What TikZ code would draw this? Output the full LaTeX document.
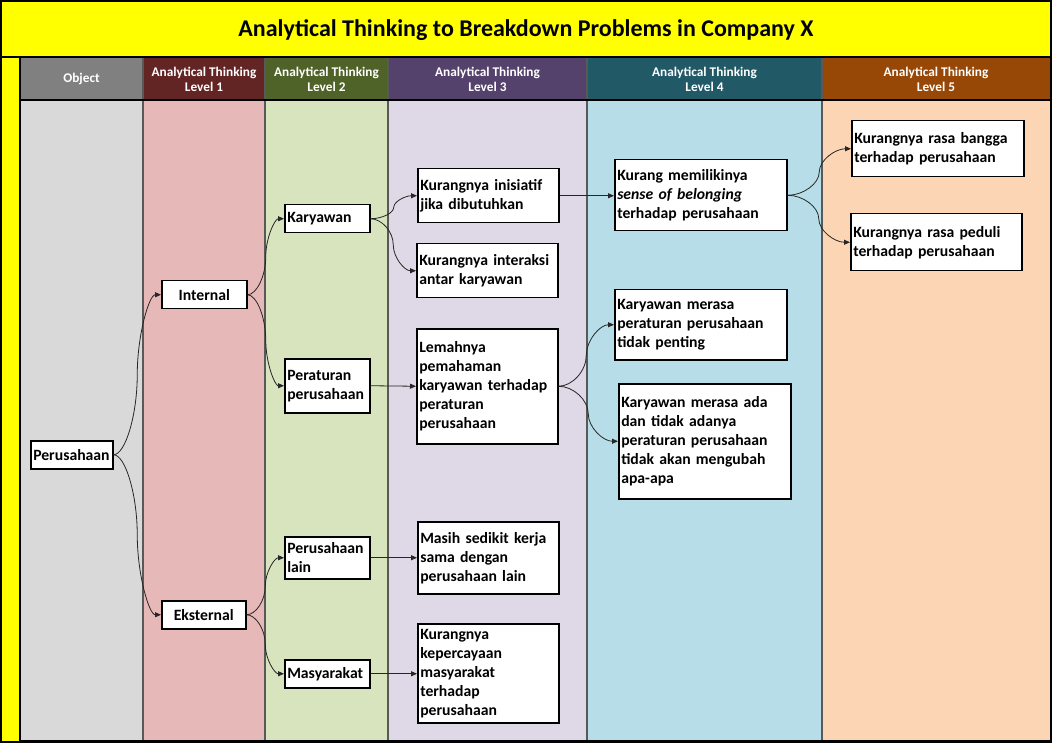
\documentclass[tikz,border=0pt]{standalone}
\usepackage{fontspec}
\setmainfont{Carlito}
\usetikzlibrary{arrows.meta,calc}
\hyphenpenalty=10000
\exhyphenpenalty=10000
\definecolor{ttlY}{HTML}{FFFF00}
\definecolor{hA}{HTML}{808080}
\definecolor{hB}{HTML}{632523}
\definecolor{hC}{HTML}{4F6228}
\definecolor{hD}{HTML}{55426C}
\definecolor{hE}{HTML}{215967}
\definecolor{hF}{HTML}{974806}
\definecolor{bA}{HTML}{D9D9D9}
\definecolor{bB}{HTML}{E6B9B8}
\definecolor{bC}{HTML}{D7E4BD}
\definecolor{bD}{HTML}{DFD8E6}
\definecolor{bE}{HTML}{B7DEE8}
\definecolor{bF}{HTML}{FCD5B5}
\definecolor{sepc}{HTML}{595959}
\begin{document}
\begin{tikzpicture}[x=1pt,y=-1pt,
  box/.style n args={3}{draw=black,line width=1.5pt,fill=white,anchor=north west,
    inner xsep=2.5pt,inner ysep=0pt,minimum width=#1pt,minimum height=#2pt,text width=#3pt,
    align=left,font=\fontsize{15.7}{19}\selectfont\bfseries},
  cbox/.style n args={2}{draw=black,line width=1.5pt,fill=white,anchor=north west,
    inner sep=0pt,minimum width=#1pt,minimum height=#2pt,
    align=center,font=\fontsize{15.7}{19}\selectfont\bfseries},
  hdr/.style={text=white,align=center,font=\fontsize{13.3}{15}\selectfont\bfseries},
  ttl/.style={text=black,font=\fontsize{24}{28}\selectfont\bfseries},
  conn/.style={draw=black!85,line width=0.8pt,-{Triangle[length=6pt,width=5pt]}},
  ex/.style={to path={let \p1=(\tikztostart), \p2=(\tikztotarget),
    \n1={0.5*(\x1+\x2)}, \n2={0.5*(\y1+\y2)} in
    .. controls ({0.75*\x1+0.25*\x2},\y1) and ({\n1*1pt},{0.75*\y1+0.25*\y2}) .. ({\n1*1pt},{\n2*1pt})
    .. controls ({\n1*1pt},{0.25*\y1+0.75*\y2}) and ({0.25*\x1+0.75*\x2},\y2) .. (\tikztotarget) \tikztonodes}}
]
\useasboundingbox (0,0) rectangle (1052,743);
% title bar
\fill[ttlY] (1,1) rectangle (1051,57);
\fill[ttlY] (1,57) rectangle (20,742);
% headers
\fill[hA] (20,58) rectangle (143,100);
\fill[hB] (143,58) rectangle (265,100);
\fill[hC] (265,58) rectangle (388,100);
\fill[hD] (388,58) rectangle (587,100);
\fill[hE] (587,58) rectangle (822,100);
\fill[hF] (822,58) rectangle (1050,100);
% bodies
\fill[bA] (20,100) rectangle (143,741);
\fill[bB] (143,100) rectangle (265,741);
\fill[bC] (265,100) rectangle (388,741);
\fill[bD] (388,100) rectangle (587,741);
\fill[bE] (587,100) rectangle (822,741);
\fill[bF] (822,100) rectangle (1050,741);
% separators
\foreach \xx in {143,265,388,587,822}{\draw[sepc,line width=1.2pt] (\xx,58) -- (\xx,741);}
\draw[black,line width=1.2pt] (20,100) -- (1050,100);
\draw[black,line width=1.2pt] (1,57) -- (1051,57);
\draw[black,line width=1.2pt] (20,57) -- (20,742);
\draw[black,line width=1.2pt] (20,741) -- (1050,741);
\draw[black,line width=1.2pt] (1,1) rectangle (1051,742);
% texts
\node[ttl] (title) at (526,30) {Analytical Thinking to Breakdown Problems in Company X};
\node[hdr] (h0) at (81.5,79) {Object};
\node[hdr] (h1) at (204,79) {Analytical Thinking\\Level 1};
\node[hdr] (h2) at (326.5,79) {Analytical Thinking\\Level 2};
\node[hdr] (h3) at (487.5,79) {Analytical Thinking\\Level 3};
\node[hdr] (h4) at (704.5,79) {Analytical Thinking\\Level 4};
\node[hdr] (h5) at (936,79) {Analytical Thinking\\Level 5};
% nodes
\node[box={81}{28}{77}] (per) at (30,440) {Perusahaan};
\node[cbox={85}{28}] (int) at (161,280) {Internal};
\node[cbox={84}{28}] (eks) at (161,600) {Eksternal};
\node[box={85}{28}{80}] (kar) at (284,204) {Karyawan};
\node[box={85}{54}{80}] (ptr) at (284,358) {Peraturan\\perusahaan};
\node[box={85}{42}{80}] (pl) at (284,536) {Perusahaan\\lain};
\node[box={85}{28}{80}] (mas) at (284,659) {Masyarakat};
\node[box={141}{54}{136}] (ini) at (417,168) {Kurangnya inisiatif\\jika dibutuhkan};
\node[box={141}{54}{136}] (itr) at (416,243) {Kurangnya interaksi\\antar karyawan};
\node[box={141}{115}{136}] (lem) at (416,328) {Lemahnya\\pemahaman\\karyawan terhadap\\peraturan\\perusahaan};
\node[box={141}{72}{136}] (msk) at (417,521) {Masih sedikit kerja\\sama dengan\\perusahaan lain};
\node[box={141}{99}{136}] (kep) at (417,623) {Kurangnya\\kepercayaan\\masyarakat\\terhadap\\perusahaan};
\node[box={172}{71}{167}] (kmb) at (614,159) {Kurang memilikinya\\\textit{sense of belonging}\\terhadap perusahaan};
\node[box={172}{70}{167}] (kmp) at (614,289) {Karyawan merasa\\peraturan perusahaan\\tidak penting};
\node[box={172}{115}{167}] (kma) at (618,383) {Karyawan merasa ada\\dan tidak adanya\\peraturan perusahaan\\tidak akan mengubah\\apa-apa};
\node[box={172}{56}{167}] (bgg) at (851,120) {Kurangnya rasa bangga\\terhadap perusahaan};
\node[box={171}{57}{166}] (pdl) at (850,213) {Kurangnya rasa peduli\\terhadap perusahaan};
% connectors
\draw[conn] (per.east) to[ex] (int.west);
\draw[conn] (per.east) to[ex] (eks.west);
\draw[conn] (int.east) to[ex] (kar.west);
\draw[conn] (int.east) to[ex] (ptr.west);
\draw[conn] (eks.east) to[ex] (pl.west);
\draw[conn] (eks.east) to[ex] (mas.west);
\draw[conn] (kar.east) to[ex] (ini.west);
\draw[conn] (kar.east) to[ex] (itr.west);
\draw[conn] (ptr.east) -- (lem.west);
\draw[conn] (pl.east) -- (pl.east -| msk.west);
\draw[conn] (mas.east) -- (mas.east -| kep.west);
\draw[conn] (ini.east) -- (ini.east -| kmb.west);
\draw[conn] (lem.east) to[ex] (kmp.west);
\draw[conn] (lem.east) to[ex] (kma.west);
\draw[conn] (kmb.east) to[ex] (bgg.west);
\draw[conn] (kmb.east) to[ex] (pdl.west);
\end{tikzpicture}
\end{document}
